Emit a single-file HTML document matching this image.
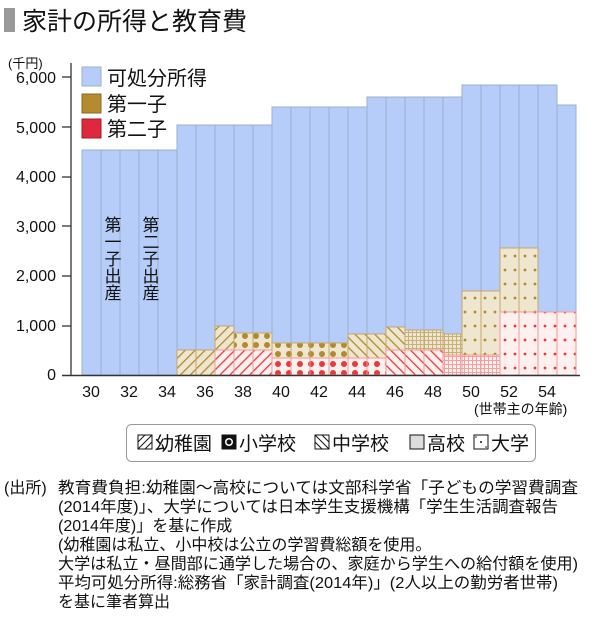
<!DOCTYPE html>
<html><head><meta charset="utf-8"><style>
body{margin:0;background:#fff;width:600px;height:623px;overflow:hidden;font-family:"Liberation Sans","Noto Sans CJK JP",sans-serif;}
svg text{font-family:"Liberation Sans","Noto Sans CJK JP",sans-serif;fill:#111}
</style></head><body>
<svg width="600" height="623" viewBox="0 0 600 623" xmlns="http://www.w3.org/2000/svg">
<defs>
<pattern id="yk" width="7" height="7" patternUnits="userSpaceOnUse" patternTransform="rotate(45)"><rect width="7" height="7" fill="#efe6cf"/><rect width="1.3" height="7" fill="#b08a30"/></pattern>
<pattern id="rk" width="7" height="7" patternUnits="userSpaceOnUse" patternTransform="rotate(45)"><rect width="7" height="7" fill="#fff0f0"/><rect width="1.3" height="7" fill="#e83a3a"/></pattern>
<pattern id="ym" width="7" height="7" patternUnits="userSpaceOnUse" patternTransform="rotate(-45)"><rect width="7" height="7" fill="#efe6cf"/><rect width="1.3" height="7" fill="#b08a30"/></pattern>
<pattern id="rm" width="7" height="7" patternUnits="userSpaceOnUse" patternTransform="rotate(-45)"><rect width="7" height="7" fill="#fff0f0"/><rect width="1.3" height="7" fill="#e83a3a"/></pattern>
<pattern id="ye" width="11" height="9" patternUnits="userSpaceOnUse"><rect width="11" height="9" fill="#efe6cf"/><circle cx="3" cy="3" r="3" fill="#b08a30"/></pattern>
<pattern id="re" width="11" height="9" patternUnits="userSpaceOnUse"><rect width="11" height="9" fill="#fff0f0"/><circle cx="3" cy="4" r="3" fill="#e83a3a"/></pattern>
<pattern id="yh" width="4" height="4" patternUnits="userSpaceOnUse"><rect width="4" height="4" fill="#efe6cf"/><rect width="4" height="1" fill="#c8b07a"/><rect width="1" height="4" fill="#c8b07a"/></pattern>
<pattern id="rh" width="4" height="4" patternUnits="userSpaceOnUse"><rect width="4" height="4" fill="#fff0f0"/><rect width="4" height="1" fill="#f5a0a0"/><rect width="1" height="4" fill="#f5a0a0"/></pattern>
<pattern id="yu" width="10" height="14" patternUnits="userSpaceOnUse"><rect width="10" height="14" fill="#efe6cf"/><circle cx="5" cy="4" r="1.4" fill="#b08a30"/></pattern>
<pattern id="ru" width="10" height="14" patternUnits="userSpaceOnUse"><rect width="10" height="14" fill="#fff0f0"/><circle cx="5" cy="4" r="1.4" fill="#e83a3a"/></pattern>
</defs>
<rect x="4" y="8" width="11" height="24" fill="#999"/>
<text x="22" y="30" font-size="25">家計の所得と教育費</text>
<text x="8" y="68" font-size="13">(千円)</text>
<g font-size="16" text-anchor="end">
<text x="56" y="83">6,000</text><text x="56" y="133">5,000</text><text x="56" y="182">4,000</text><text x="56" y="232">3,000</text><text x="56" y="281">2,000</text><text x="56" y="331">1,000</text><text x="56" y="380">0</text>
</g>
<g stroke="#333" stroke-width="1.3">
<line x1="71" y1="63" x2="71" y2="375"/>
<line x1="62" y1="77" x2="71" y2="77"/><line x1="62" y1="127" x2="71" y2="127"/><line x1="62" y1="177" x2="71" y2="177"/><line x1="62" y1="226" x2="71" y2="226"/><line x1="62" y1="276" x2="71" y2="276"/><line x1="62" y1="326" x2="71" y2="326"/>
</g>
<g stroke="#9ab0d0" stroke-width="1" fill="#b5cdf8">
<rect x="82" y="150" width="19" height="225"/><rect x="101" y="150" width="19" height="225"/><rect x="120" y="150" width="19" height="225"/><rect x="139" y="150" width="19" height="225"/><rect x="158" y="150" width="19" height="225"/>
<rect x="177" y="125" width="19" height="250"/><rect x="196" y="125" width="19" height="250"/><rect x="215" y="125" width="19" height="250"/><rect x="234" y="125" width="19" height="250"/><rect x="253" y="125" width="19" height="250"/>
<rect x="272" y="107" width="19" height="268"/><rect x="291" y="107" width="19" height="268"/><rect x="310" y="107" width="19" height="268"/><rect x="329" y="107" width="19" height="268"/><rect x="348" y="107" width="19" height="268"/>
<rect x="367" y="97" width="19" height="278"/><rect x="386" y="97" width="19" height="278"/><rect x="405" y="97" width="19" height="278"/><rect x="424" y="97" width="19" height="278"/><rect x="443" y="97" width="19" height="278"/>
<rect x="462" y="85" width="19" height="290"/><rect x="481" y="85" width="19" height="290"/><rect x="500" y="85" width="19" height="290"/><rect x="519" y="85" width="19" height="290"/><rect x="538" y="85" width="19" height="290"/>
<rect x="557" y="105" width="19" height="270"/>
</g>
<g stroke="#c4a867" stroke-width="1">
<rect x="177" y="350" width="19" height="25" fill="url(#yk)"/><rect x="196" y="350" width="19" height="25" fill="url(#yk)"/>
<rect x="215" y="326" width="19" height="24" fill="url(#yk)"/>
<rect x="234" y="333" width="19" height="17" fill="url(#ye)"/><rect x="253" y="333" width="19" height="17" fill="url(#ye)"/>
<rect x="272" y="343" width="19" height="15" fill="url(#ye)"/><rect x="291" y="343" width="19" height="15" fill="url(#ye)"/><rect x="310" y="343" width="19" height="15" fill="url(#ye)"/><rect x="329" y="343" width="19" height="15" fill="url(#ye)"/>
<rect x="348" y="334" width="19" height="24" fill="url(#ym)"/><rect x="367" y="334" width="19" height="24" fill="url(#ym)"/>
<rect x="386" y="327" width="19" height="23" fill="url(#ym)"/>
<rect x="405" y="330" width="19" height="20" fill="url(#yh)"/><rect x="424" y="330" width="19" height="20" fill="url(#yh)"/>
<rect x="443" y="334" width="19" height="21" fill="url(#yh)"/>
<rect x="462" y="291" width="19" height="64" fill="url(#yu)"/><rect x="481" y="291" width="19" height="64" fill="url(#yu)"/>
<rect x="500" y="248" width="19" height="64" fill="url(#yu)"/><rect x="519" y="248" width="19" height="64" fill="url(#yu)"/>
</g>
<g stroke="#f29a9a" stroke-width="1">
<rect x="215" y="350" width="19" height="25" fill="url(#rk)"/><rect x="234" y="350" width="19" height="25" fill="url(#rk)"/><rect x="253" y="350" width="19" height="25" fill="url(#rk)"/>
<rect x="272" y="358" width="19" height="17" fill="url(#re)"/><rect x="291" y="358" width="19" height="17" fill="url(#re)"/><rect x="310" y="358" width="19" height="17" fill="url(#re)"/><rect x="329" y="358" width="19" height="17" fill="url(#re)"/><rect x="348" y="358" width="19" height="17" fill="url(#re)"/><rect x="367" y="358" width="19" height="17" fill="url(#re)"/>
<rect x="386" y="350" width="19" height="25" fill="url(#rm)"/><rect x="405" y="350" width="19" height="25" fill="url(#rm)"/><rect x="424" y="350" width="19" height="25" fill="url(#rm)"/>
<rect x="443" y="355" width="19" height="20" fill="url(#rh)"/><rect x="462" y="355" width="19" height="20" fill="url(#rh)"/><rect x="481" y="355" width="19" height="20" fill="url(#rh)"/>
<rect x="500" y="312" width="19" height="63" fill="url(#ru)"/><rect x="519" y="312" width="19" height="63" fill="url(#ru)"/><rect x="538" y="312" width="19" height="63" fill="url(#ru)"/><rect x="557" y="312" width="19" height="63" fill="url(#ru)"/>
</g>
<line x1="62" y1="375.5" x2="580" y2="375.5" stroke="#333" stroke-width="1.5"/>
<g font-size="17">
<text x="111" y="216" style="writing-mode:vertical-rl">第一子出産</text>
<text x="149" y="216" style="writing-mode:vertical-rl">第二子出産</text>
</g>
<rect x="82" y="67" width="19" height="19" fill="#b5cdf8" stroke="#9ab0d0"/>
<rect x="82" y="94" width="19" height="19" fill="#b58a30" stroke="#8a6a20"/>
<rect x="82" y="119" width="19" height="19" fill="#e0283c" stroke="#a01c2a"/>
<g font-size="20"><text x="107" y="85">可処分所得</text><text x="107" y="111">第一子</text><text x="107" y="136">第二子</text></g>
<g font-size="16" text-anchor="middle">
<text x="91" y="397">30</text><text x="129" y="397">32</text><text x="167" y="397">34</text><text x="205" y="397">36</text><text x="243" y="397">38</text><text x="281" y="397">40</text><text x="319" y="397">42</text><text x="357" y="397">44</text><text x="395" y="397">46</text><text x="433" y="397">48</text><text x="471" y="397">50</text><text x="509" y="397">52</text><text x="547" y="397">54</text>
</g>
<text x="474" y="414" font-size="14">(世帯主の年齢)</text>
<rect x="126.5" y="424.5" width="409" height="37" rx="5" fill="#fff" stroke="#999"/>
<g stroke="#111" stroke-width="1">
<rect x="138" y="435" width="14" height="14" fill="#fff"/>
<rect x="222" y="435" width="14" height="14" fill="#111"/>
<rect x="315" y="435" width="14" height="14" fill="#fff"/>
<rect x="410" y="435" width="14" height="14" fill="#ddd"/>
<rect x="474" y="435" width="14" height="14" fill="#fff"/>
</g>
<g stroke="#111" stroke-width="1">
<line x1="138" y1="442" x2="145" y2="435"/><line x1="138" y1="449" x2="152" y2="435"/><line x1="145" y1="449" x2="152" y2="442"/>
<line x1="315" y1="442" x2="322" y2="449"/><line x1="315" y1="435" x2="329" y2="449"/><line x1="322" y1="435" x2="329" y2="442"/>
</g>
<circle cx="229" cy="442" r="4" fill="#fff"/><circle cx="229" cy="442" r="2.5" fill="#111"/>
<circle cx="481" cy="442" r="1" fill="#111"/><circle cx="476" cy="437" r="0.8" fill="#111"/><circle cx="486" cy="447" r="0.8" fill="#111"/>
<g font-size="19"><text x="155" y="450">幼稚園</text><text x="239" y="450">小学校</text><text x="332" y="450">中学校</text><text x="427" y="450">高校</text><text x="491" y="450">大学</text></g>
<g font-size="16">
<text x="4" y="493">(出所)</text>
<text x="58" y="493" textLength="520" lengthAdjust="spacingAndGlyphs">教育費負担:幼稚園～高校については文部科学省「子どもの学習費調査</text>
<text x="58" y="512" textLength="500" lengthAdjust="spacingAndGlyphs">(2014年度)」、大学については日本学生支援機構「学生生活調査報告</text>
<text x="58" y="531">(2014年度)」を基に作成</text>
<text x="58" y="550">(幼稚園は私立、小中校は公立の学習費総額を使用。</text>
<text x="58" y="569" textLength="520" lengthAdjust="spacingAndGlyphs">大学は私立・昼間部に通学した場合の、家庭から学生への給付額を使用)</text>
<text x="58" y="588" textLength="500" lengthAdjust="spacingAndGlyphs">平均可処分所得:総務省「家計調査(2014年)」(2人以上の勤労者世帯)</text>
<text x="58" y="607">を基に筆者算出</text>
</g>
</svg>
</body></html>
